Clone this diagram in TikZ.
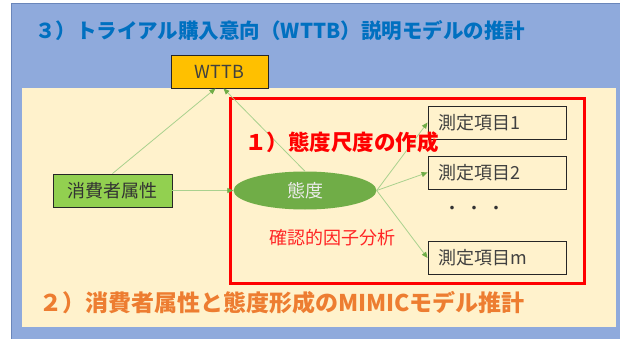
\documentclass[tikz,border=0pt]{standalone}
\usepackage{fontspec}
\newfontfamily\jp{Noto Sans CJK JP}
\usetikzlibrary{arrows.meta,shapes.geometric}
\definecolor{panelblue}{HTML}{8FAADC}
\definecolor{panelline}{HTML}{6A86BA}
\definecolor{cream}{HTML}{FFF2CC}
\definecolor{titleblue}{HTML}{0070C0}
\definecolor{orangetxt}{HTML}{ED7D31}
\definecolor{gold}{HTML}{FFC000}
\definecolor{lgreen}{HTML}{92D050}
\definecolor{dgreen}{HTML}{70AD47}
\definecolor{linegreen}{HTML}{A9D18E}
\definecolor{darktxt}{HTML}{404040}
\tikzset{
  boxstyle/.style={draw=black!85,line width=0.9pt,minimum height=33pt,inner sep=0pt,font=\jp\fontsize{18}{21}\selectfont,text=darktxt},
  itembox/.style={boxstyle,text width=118pt,inner xsep=10pt,align=left},
  arr/.style={draw=linegreen,line width=0.8pt,-{Triangle[length=6pt,width=5pt,color=dgreen]}},
  headtxt/.style={anchor=west,inner sep=0pt},
}
\begin{document}
\begin{tikzpicture}[x=1pt,y=-1pt]
\useasboundingbox (0,0) rectangle (620,339);
\clip (0,0) rectangle (620,339);
\fill[white] (0,0) rectangle (620,339);
\filldraw[fill=panelblue,draw=panelline,line width=1pt] (11,4) rectangle (640,360);
\fill[cream] (22,88) rectangle (616,327);
\node[headtxt,text=titleblue,font=\jp\bfseries\fontsize{20.5}{24}\selectfont] (title) at (35,31) {３）トライアル購入意向（WTTB）説明モデルの推計};
\node[boxstyle,fill=gold,minimum width=97pt] (wttb) at (219.5,71.5) {WTTB};
\node[boxstyle,fill=lgreen,minimum width=119pt,text=black!80] (attr) at (112.5,190.5) {消費者属性};
\node[ellipse,fill=dgreen,minimum width=143pt,minimum height=38pt,inner sep=0pt,text=white!92!black,font=\jp\fontsize{18}{21}\selectfont] (ell) at (305,190.5) {態度};
\node[itembox] (m1) at (497,122.5) {測定項目1};
\node[itembox] (m2) at (497,172.5) {測定項目2};
\node[itembox] (mm) at (497,258) {測定項目m};
\node[inner sep=0pt,text=black!80,font=\jp\fontsize{17}{20}\selectfont] (dots) at (474,210) {・\hspace{5pt}・\hspace{5pt}・};
\node[inner sep=0pt,text=red!85!white,font=\jp\fontsize{18}{21}\selectfont] (cfa) at (332,238) {確認的因子分析};
\draw[red,line width=3pt] (230,99) rectangle (584,283);
\draw[arr] (attr.north) -- ([xshift=-4pt]wttb.south);
\draw[arr] (ell.north) -- ([xshift=4pt]wttb.south);
\draw[arr] (attr.east) -- (ell.west);
\draw[arr] (ell.east) -- (m1.west);
\draw[arr] (ell.east) -- (m2.west);
\draw[arr] (ell.east) -- (mm.west);
\node[headtxt,text=red,font=\jp\bfseries\fontsize{21.5}{25}\selectfont] (t1) at (245,142) {１）態度尺度の作成};
\node[headtxt,text=orangetxt,font=\jp\bfseries\fontsize{23}{27}\selectfont] (t2) at (39,303) {２）消費者属性と態度形成のMIMICモデル推計};
\end{tikzpicture}
\end{document}
